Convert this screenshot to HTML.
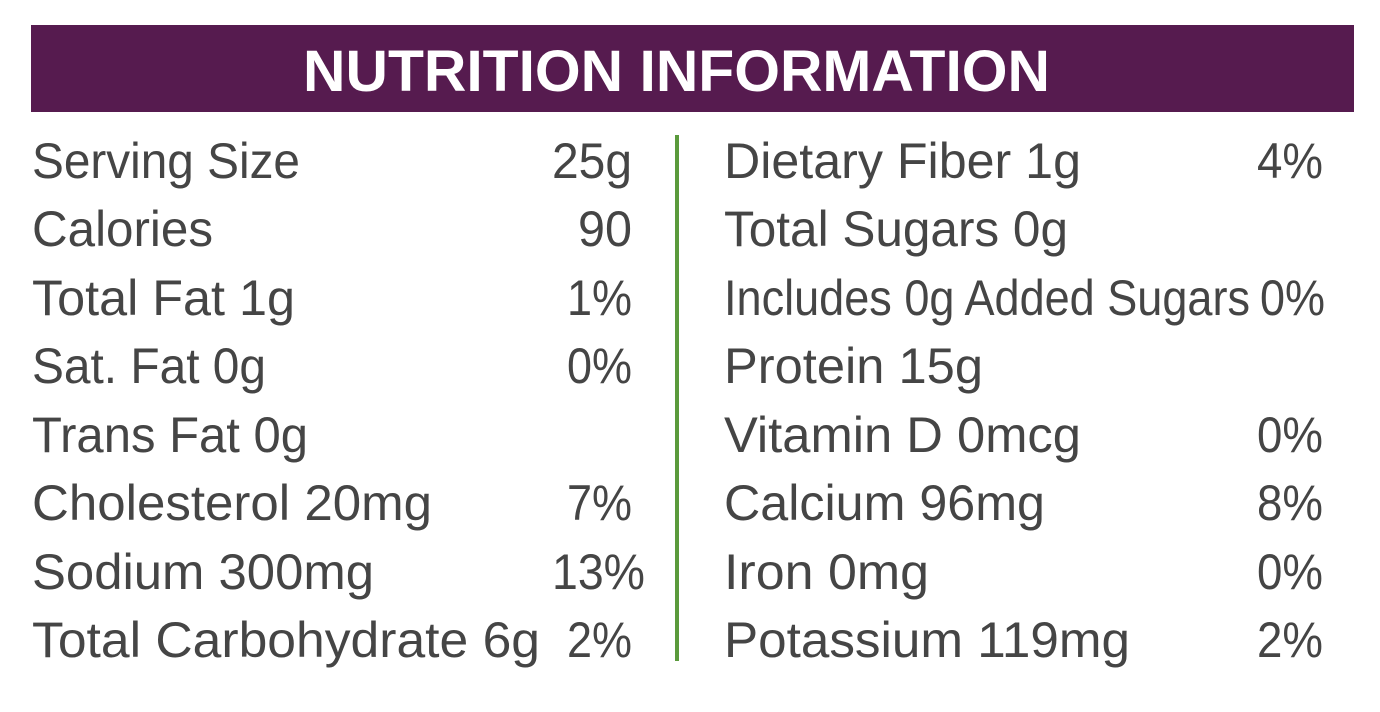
<!DOCTYPE html>
<html><head><meta charset="utf-8"><style>
html,body{margin:0;padding:0;background:#fff;}
svg{display:block;}
text{font-family:"Liberation Sans",sans-serif;}
.l{font-size:50px;fill:#454545;}
.h{font-size:58px;fill:#fff;font-weight:bold;}
</style></head><body>
<svg width="1380" height="712" viewBox="0 0 1380 712" xmlns="http://www.w3.org/2000/svg">
<rect x="0" y="0" width="1380" height="712" fill="#fff"/>
<rect x="31" y="25" width="1323" height="87" fill="#561b4f"/>
<text class="h" x="303" y="91" textLength="747" lengthAdjust="spacingAndGlyphs">NUTRITION INFORMATION</text>
<rect x="675" y="135" width="4" height="526" fill="#5a9a3c"/>
<g class="l">
<text class="l" x="32" y="178" textLength="268" lengthAdjust="spacingAndGlyphs">Serving Size</text>
<text class="l" x="32" y="246" textLength="181" lengthAdjust="spacingAndGlyphs">Calories</text>
<text class="l" x="32" y="315" textLength="263" lengthAdjust="spacingAndGlyphs">Total Fat 1g</text>
<text class="l" x="32" y="383" textLength="234" lengthAdjust="spacingAndGlyphs">Sat. Fat 0g</text>
<text class="l" x="32" y="452" textLength="276" lengthAdjust="spacingAndGlyphs">Trans Fat 0g</text>
<text class="l" x="32" y="520" textLength="400" lengthAdjust="spacingAndGlyphs">Cholesterol 20mg</text>
<text class="l" x="32" y="589" textLength="342" lengthAdjust="spacingAndGlyphs">Sodium 300mg</text>
<text class="l" x="32" y="657" textLength="508" lengthAdjust="spacingAndGlyphs">Total Carbohydrate 6g</text>

<text class="l" x="552" y="178" textLength="80" lengthAdjust="spacingAndGlyphs">25g</text>
<text class="l" x="578" y="246" textLength="54" lengthAdjust="spacingAndGlyphs">90</text>
<text class="l" x="567" y="315" textLength="65" lengthAdjust="spacingAndGlyphs">1%</text>
<text class="l" x="567" y="383" textLength="65" lengthAdjust="spacingAndGlyphs">0%</text>
<text class="l" x="567" y="520" textLength="65" lengthAdjust="spacingAndGlyphs">7%</text>
<text class="l" x="552" y="589" textLength="93" lengthAdjust="spacingAndGlyphs">13%</text>
<text class="l" x="567" y="657" textLength="65" lengthAdjust="spacingAndGlyphs">2%</text>

<text class="l" x="724" y="178" textLength="357" lengthAdjust="spacingAndGlyphs">Dietary Fiber 1g</text>
<text class="l" x="724" y="246" textLength="344" lengthAdjust="spacingAndGlyphs">Total Sugars 0g</text>
<text class="l" x="724" y="315" textLength="526" lengthAdjust="spacingAndGlyphs">Includes 0g Added Sugars</text>
<text class="l" x="724" y="383" textLength="259" lengthAdjust="spacingAndGlyphs">Protein 15g</text>
<text class="l" x="724" y="452" textLength="357" lengthAdjust="spacingAndGlyphs">Vitamin D 0mcg</text>
<text class="l" x="724" y="520" textLength="321" lengthAdjust="spacingAndGlyphs">Calcium 96mg</text>
<text class="l" x="724" y="589" textLength="205" lengthAdjust="spacingAndGlyphs">Iron 0mg</text>
<text class="l" x="724" y="657" textLength="406" lengthAdjust="spacingAndGlyphs">Potassium 119mg</text>

<text class="l" x="1257" y="178" textLength="66" lengthAdjust="spacingAndGlyphs">4%</text>
<text class="l" x="1260" y="315" textLength="65" lengthAdjust="spacingAndGlyphs">0%</text>
<text class="l" x="1257" y="452" textLength="66" lengthAdjust="spacingAndGlyphs">0%</text>
<text class="l" x="1257" y="520" textLength="66" lengthAdjust="spacingAndGlyphs">8%</text>
<text class="l" x="1257" y="589" textLength="66" lengthAdjust="spacingAndGlyphs">0%</text>
<text class="l" x="1257" y="657" textLength="66" lengthAdjust="spacingAndGlyphs">2%</text>
</g>
</svg>
</body></html>
